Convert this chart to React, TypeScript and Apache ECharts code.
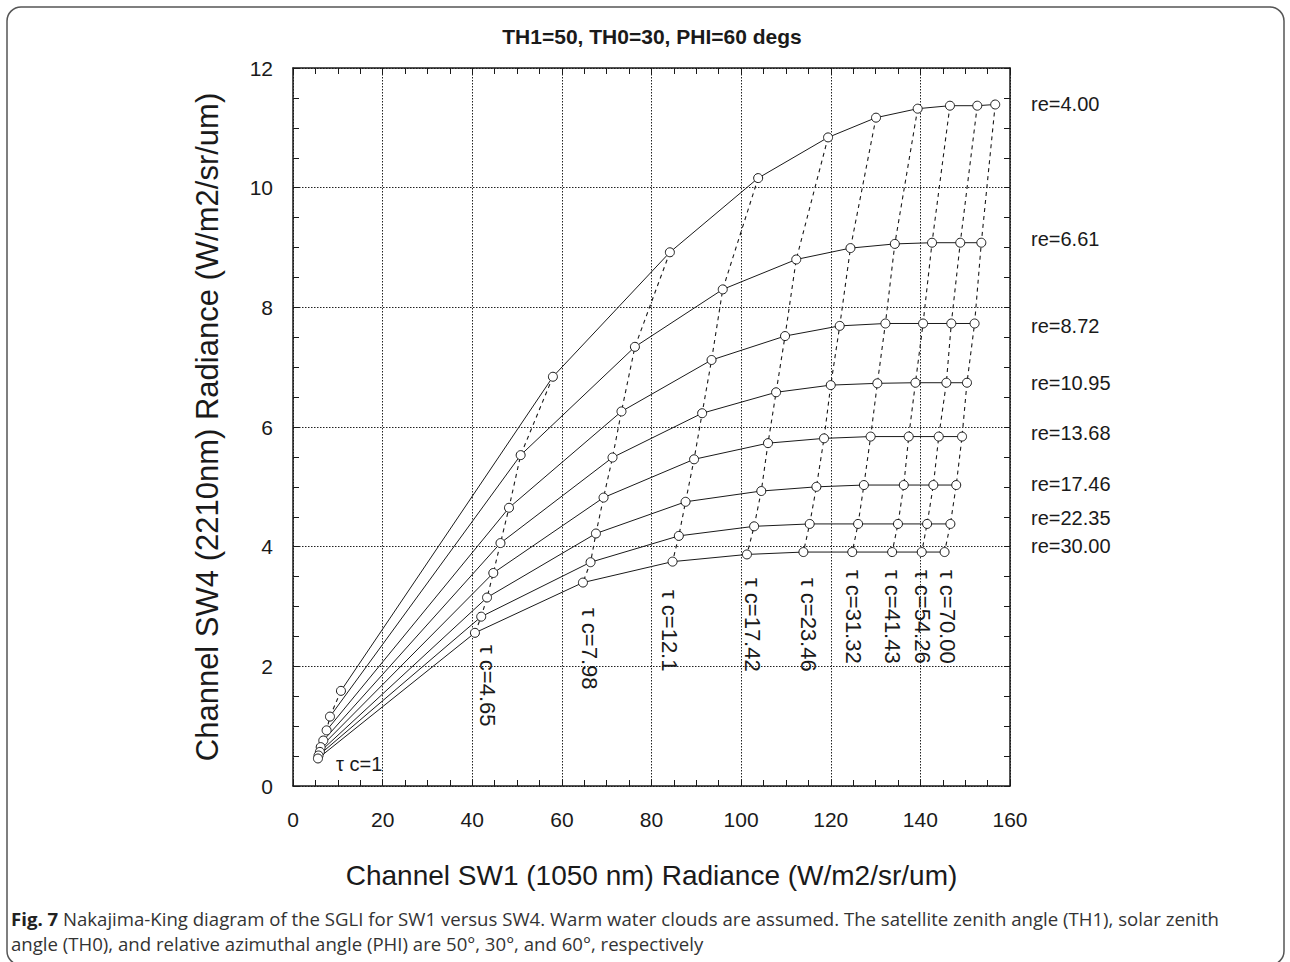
import React, { useEffect, useRef } from "react";
import * as echarts from "echarts";

// tau (cloud optical thickness) values along each re line
const tauLabels = ["1", "4.65", "7.98", "12.1", "17.42", "23.46", "31.32", "41.43", "54.26", "70.00"];
// effective radius values (one line each)
const reLabels = ["4.00", "6.61", "8.72", "10.95", "13.68", "17.46", "22.35", "30.00"];

// SW1 radiance (x) per re line, ordered by tau
const sw1_re04 = [10.7, 58.0, 84.1, 103.8, 119.4, 130.1, 139.4, 146.6, 152.7, 156.7];
const sw1_re06 = [8.25, 50.8, 76.3, 95.9, 112.3, 124.4, 134.3, 142.6, 148.9, 153.6];
const sw1_re08 = [7.5, 48.2, 73.3, 93.4, 109.8, 122.0, 132.2, 140.6, 146.9, 152.1];
const sw1_re10 = [6.76, 46.3, 71.3, 91.3, 107.8, 120.0, 130.4, 138.9, 145.8, 150.4];
const sw1_re13 = [6.18, 44.7, 69.3, 89.5, 106.0, 118.5, 128.9, 137.4, 144.1, 149.3];
const sw1_re17 = [6.0, 43.3, 67.6, 87.6, 104.5, 116.8, 127.4, 136.3, 142.9, 148.0];
const sw1_re22 = [5.7, 42.0, 66.4, 86.1, 102.9, 115.3, 126.1, 135.0, 141.5, 146.7];
const sw1_re30 = [5.57, 40.6, 64.7, 84.7, 101.3, 113.9, 124.8, 133.7, 140.3, 145.4];

// SW4 radiance (y) per re line, ordered by tau
const sw4_re04 = [1.59, 6.84, 8.92, 10.16, 10.84, 11.17, 11.32, 11.37, 11.37, 11.39];
const sw4_re06 = [1.16, 5.53, 7.34, 8.30, 8.80, 8.99, 9.06, 9.08, 9.08, 9.08];
const sw4_re08 = [0.93, 4.65, 6.26, 7.12, 7.52, 7.69, 7.73, 7.73, 7.73, 7.73];
const sw4_re10 = [0.76, 4.06, 5.49, 6.23, 6.58, 6.70, 6.73, 6.74, 6.74, 6.74];
const sw4_re13 = [0.65, 3.56, 4.82, 5.46, 5.73, 5.81, 5.84, 5.84, 5.84, 5.84];
const sw4_re17 = [0.57, 3.15, 4.22, 4.75, 4.93, 5.00, 5.03, 5.03, 5.03, 5.03];
const sw4_re22 = [0.51, 2.83, 3.74, 4.18, 4.34, 4.38, 4.38, 4.38, 4.38, 4.38];
const sw4_re30 = [0.46, 2.56, 3.40, 3.75, 3.87, 3.91, 3.91, 3.91, 3.91, 3.91];

const xTicks = { min: 0, max: 160, interval: 20 };
const yTicks = { min: 0, max: 12, interval: 2 };

const sw1All = [sw1_re04, sw1_re06, sw1_re08, sw1_re10, sw1_re13, sw1_re17, sw1_re22, sw1_re30];
const sw4All = [sw4_re04, sw4_re06, sw4_re08, sw4_re10, sw4_re13, sw4_re17, sw4_re22, sw4_re30];

// label layout (pixels)
const reLabelPos = [104, 239, 326, 383, 433, 484, 518, 546];
const tauLabelPos = [
  [487, 645], [589, 608], [669, 590], [752, 578], [808, 578], [853, 570], [892, 570], [922, 570], [947, 570],
];

const FONT = '"Liberation Sans", Arial, Helvetica, sans-serif';
const CAP_FONT = '"Open Sans", sans-serif';
const INK = "#1a1a1a";

export default function App() {
  const ref = useRef<HTMLDivElement>(null);
  useEffect(() => {
    if (!ref.current) return;
    const chart = echarts.init(ref.current, undefined, { renderer: "svg" });

    const tauSeries = tauLabels.map((t, j) => ({
      name: "tau" + t,
      type: "line",
      xAxisIndex: 0,
      yAxisIndex: 0,
      data: sw1All.map((xs, i) => [xs[j], sw4All[i][j]]),
      showSymbol: false,
      symbol: "none",
      lineStyle: { color: INK, width: 1.1, type: [4, 4] },
      z: 2,
      silent: true,
    }));
    const reSeries = reLabels.map((r, i) => ({
      name: "re" + r,
      type: "line",
      xAxisIndex: 0,
      yAxisIndex: 0,
      data: sw1All[i].map((x, j) => [x, sw4All[i][j]]),
      symbol: "circle",
      symbolSize: 9,
      itemStyle: { color: "#fff", borderColor: INK, borderWidth: 1 },
      lineStyle: { color: INK, width: 1 },
      z: 3,
      silent: true,
    }));

    const axisLine = { show: true, onZero: false, lineStyle: { color: INK, width: 1.5 } };
    const tick = { show: true, inside: true, length: 6, lineStyle: { color: INK, width: 1 } };
    const minor = { show: true, splitNumber: 4, length: 6, lineStyle: { color: INK, width: 1 } };
    const split = { show: true, lineStyle: { color: "#222", width: 1, type: [1.5, 1.5] } };

    const txt = (extra: any) => ({
      fill: INK,
      align: "left",
      verticalAlign: "middle",
      textAlign: "left",
      textVerticalAlign: "middle",
      ...extra,
    });

    const graphics: any[] = [];
    graphics.push({
      type: "rect",
      shape: { x: 7, y: 7, width: 1277, height: 958, r: 14 },
      style: { fill: "none", stroke: "#555", lineWidth: 1.5 },
      z: 0,
    });
    graphics.push({
      type: "text",
      x: 652,
      y: 36,
      style: txt({
        text: "TH1=50, TH0=30, PHI=60 degs",
        font: "bold 21px " + FONT,
        align: "center",
        textAlign: "center",
      }),
    });
    reLabels.forEach((r, i) => {
      graphics.push({
        type: "text",
        x: 1031,
        y: reLabelPos[i],
        style: txt({ text: "re=" + r, font: "20px " + FONT }),
      });
    });
    tauLabels.slice(1).forEach((t, k) => {
      graphics.push({
        type: "text",
        x: tauLabelPos[k][0],
        y: tauLabelPos[k][1],
        rotation: -Math.PI / 2,
        style: txt({ text: "\u03c4 c=" + t, font: "22px " + FONT }),
      });
    });
    graphics.push({
      type: "text",
      x: 336,
      y: 764,
      style: txt({ text: "\u03c4 c=" + tauLabels[0], font: "20px " + FONT }),
    });
    graphics.push({
      type: "text",
      x: 11,
      y: 918,
      style: txt({
        text:
          "{b|Fig. 7} Nakajima-King diagram of the SGLI for SW1 versus SW4. Warm water clouds are assumed. The satellite zenith angle (TH1), solar zenith",
        rich: { b: { font: "bold 18.6px " + CAP_FONT, fill: "#222" } },
        font: "18.6px " + CAP_FONT,
        fill: "#333",
      }),
    });
    graphics.push({
      type: "text",
      x: 11,
      y: 943,
      style: txt({
        text: "angle (TH0), and relative azimuthal angle (PHI) are 50\u00b0, 30\u00b0, and 60\u00b0, respectively",
        font: "18.6px " + CAP_FONT,
        fill: "#333",
      }),
    });

    chart.setOption({
      animation: false,
      backgroundColor: "#fff",
      grid: { left: 293, right: 280, top: 68, bottom: 176, containLabel: false },
      xAxis: [
        {
          type: "value",
          position: "bottom",
          ...xTicks,
          axisLine,
          axisTick: tick,
          minorTick: minor,
          splitLine: split,
          axisLabel: { show: true, margin: 23, fontSize: 21, color: INK, fontFamily: FONT },
          name: "Channel SW1 (1050 nm) Radiance (W/m2/sr/um)",
          nameLocation: "middle",
          nameGap: 75,
          nameTextStyle: { fontSize: 28, color: INK, fontFamily: FONT },
        },
        {
          type: "value",
          position: "top",
          ...xTicks,
          axisLine,
          axisTick: tick,
          minorTick: minor,
          splitLine: { show: false },
          axisLabel: { show: false },
        },
      ],
      yAxis: [
        {
          type: "value",
          position: "left",
          ...yTicks,
          axisLine,
          axisTick: tick,
          minorTick: minor,
          splitLine: split,
          axisLabel: { show: true, margin: 20, fontSize: 21, color: INK, fontFamily: FONT },
          name: "Channel SW4 (2210nm) Radiance (W/m2/sr/um)",
          nameLocation: "middle",
          nameGap: 70,
          nameTextStyle: { fontSize: 31, color: INK, fontFamily: FONT },
        },
        {
          type: "value",
          position: "right",
          ...yTicks,
          axisLine,
          axisTick: tick,
          minorTick: minor,
          splitLine: { show: false },
          axisLabel: { show: false },
        },
      ],
      series: [...tauSeries, ...reSeries],
      graphic: graphics,
    });
    return () => chart.dispose();
  }, []);
  return (
    <div
      ref={ref}
      style={{ position: "absolute", left: 0, top: 0, width: 1290, height: 962, background: "#fff" }}
    />
  );
}
